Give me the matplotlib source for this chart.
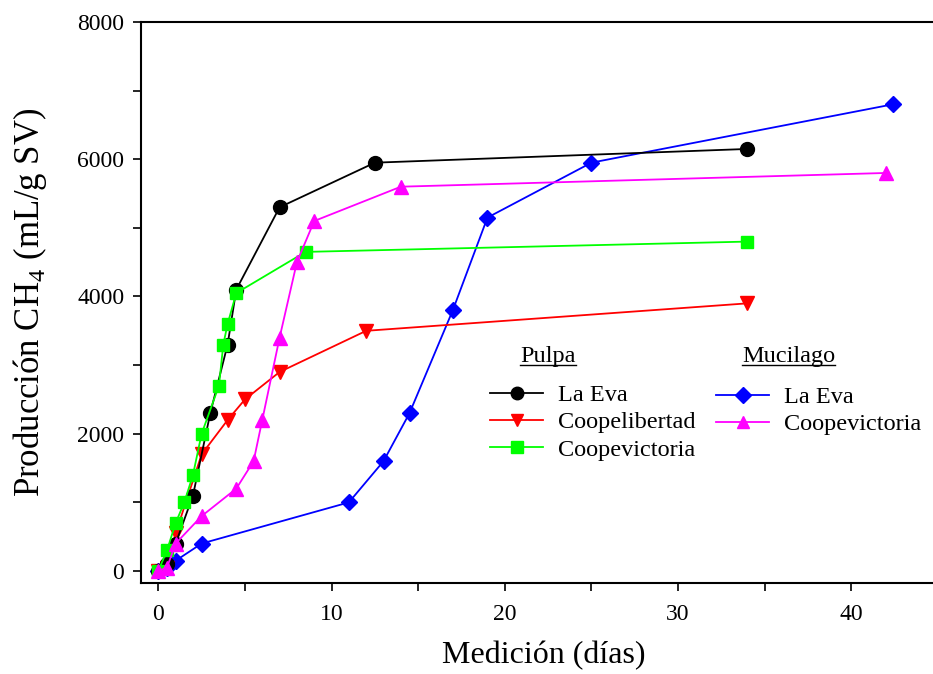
import matplotlib
matplotlib.use("Agg")
import matplotlib.pyplot as plt
from matplotlib.lines import Line2D
from matplotlib.ticker import MultipleLocator

plt.rcParams['font.family'] = ['Liberation Serif', 'DejaVu Serif']
plt.rcParams['mathtext.fontset'] = 'custom'
plt.rcParams['mathtext.rm'] = 'Liberation Serif'

# Pulpa
pulpa_eva_x = [0, 0.5, 1, 2, 3, 4, 4.5, 7, 12.5, 34]
pulpa_eva_y = [0, 100, 400, 1100, 2300, 3300, 4100, 5300, 5950, 6150]

pulpa_lib_x = [0, 0.5, 1, 2.5, 4, 5, 7, 12, 34]
pulpa_lib_y = [0, 50, 550, 1700, 2200, 2500, 2900, 3500, 3900]

pulpa_vic_x = [0, 0.5, 1, 1.5, 2, 2.5, 3.5, 3.75, 4, 4.5, 8.5, 34]
pulpa_vic_y = [0, 300, 700, 1000, 1400, 2000, 2700, 3300, 3600, 4050, 4650, 4800]

# Mucilago
muc_eva_x = [0, 0.5, 1, 2.5, 11, 13, 14.5, 17, 19, 25, 42.4]
muc_eva_y = [0, 50, 150, 400, 1000, 1600, 2300, 3800, 5150, 5950, 6800]

muc_vic_x = [0, 0.5, 1, 2.5, 4.5, 5.5, 6, 7, 8, 9, 14, 42]
muc_vic_y = [0, 50, 400, 800, 1200, 1600, 2200, 3400, 4500, 5100, 5600, 5800]

W, H = 933, 674
fig = plt.figure(figsize=(W/100, H/100), dpi=100)
AX_L, AX_T, AX_B = 141, 22, 583
ax = fig.add_axes([AX_L/W, 1-AX_B/H, 1-AX_L/W, (AX_B-AX_T)/H])
axw, axh = W-AX_L, AX_B-AX_T

ms = 9
lw = 1.3
ax.plot(muc_eva_x, muc_eva_y, color='#0000ff', marker='D', ms=8, lw=lw)
ax.plot(pulpa_lib_x, pulpa_lib_y, color='#ff0000', marker='v', ms=ms+1, lw=lw)
ax.plot(pulpa_eva_x, pulpa_eva_y, color='black', marker='o', ms=ms+1, lw=lw)
ax.plot(pulpa_vic_x, pulpa_vic_y, color='#00ff00', marker='s', ms=ms, lw=lw)
ax.plot(muc_vic_x, muc_vic_y, color='#ff00ff', marker='^', ms=ms+1, lw=lw)

ax.set_xlim(-1, (W-158)/17.33)
ax.set_ylim(-175, 8000)

ax.xaxis.set_major_locator(MultipleLocator(10))
ax.xaxis.set_minor_locator(MultipleLocator(5))
ax.yaxis.set_major_locator(MultipleLocator(2000))
ax.yaxis.set_minor_locator(MultipleLocator(1000))
ax.tick_params(axis='both', which='both', direction='out', length=6, width=1.2, labelsize=17)
ax.tick_params(axis='x', pad=9)
ax.tick_params(axis='y', pad=6)

ax.spines['right'].set_visible(False)
for s in ['left', 'bottom', 'top']:
    ax.spines[s].set_linewidth(1.5)

ax.set_xlabel('Medición (días)', fontsize=23)
ax.xaxis.set_label_coords((544-AX_L)/axw, (AX_B-641)/axh)
ax.set_ylabel('Producción CH$_4$ (mL/g SV)', fontsize=25)
ax.yaxis.set_label_coords((49-AX_L)/axw, 0.5)

# Legend
fs = 17.5
h_p = [Line2D([], [], color='black', marker='o', ms=ms, lw=lw),
       Line2D([], [], color='#ff0000', marker='v', ms=ms, lw=lw),
       Line2D([], [], color='#00ff00', marker='s', ms=ms-1, lw=lw)]
leg1 = ax.legend(h_p, ['La Eva', 'Coopelibertad', 'Coopevictoria'],
                 loc='upper left', bbox_to_anchor=((490-AX_L)/axw, 1-(384-AX_T)/axh),
                 frameon=False, fontsize=fs, handlelength=2.2, handletextpad=0.6,
                 labelspacing=0.22, borderaxespad=0, borderpad=0)
ax.add_artist(leg1)
h_m = [Line2D([], [], color='#0000ff', marker='D', ms=ms-1, lw=lw),
       Line2D([], [], color='#ff00ff', marker='^', ms=ms, lw=lw)]
leg2 = ax.legend(h_m, ['La Eva', 'Coopevictoria'],
                 loc='upper left', bbox_to_anchor=((716-AX_L)/axw, 1-(386-AX_T)/axh),
                 frameon=False, fontsize=fs, handlelength=2.2, handletextpad=0.6,
                 labelspacing=0.22, borderaxespad=0, borderpad=0)

# Headers with underline
hdrs = []
for txt, x0 in [('Pulpa', 520), ('Mucilago', 742)]:
    hdrs.append(fig.text(x0/W, 1-362/H, txt, fontsize=fs, ha='left', va='baseline'))
fig.canvas.draw()
r = fig.canvas.get_renderer()
for t in hdrs:
    bb = t.get_window_extent(r)
    fig.add_artist(Line2D([bb.x0/W, bb.x1/W], [(1-365/H), (1-365/H)],
                          color='black', lw=1.0, transform=fig.transFigure))

fig.savefig('out.png', dpi=100)
